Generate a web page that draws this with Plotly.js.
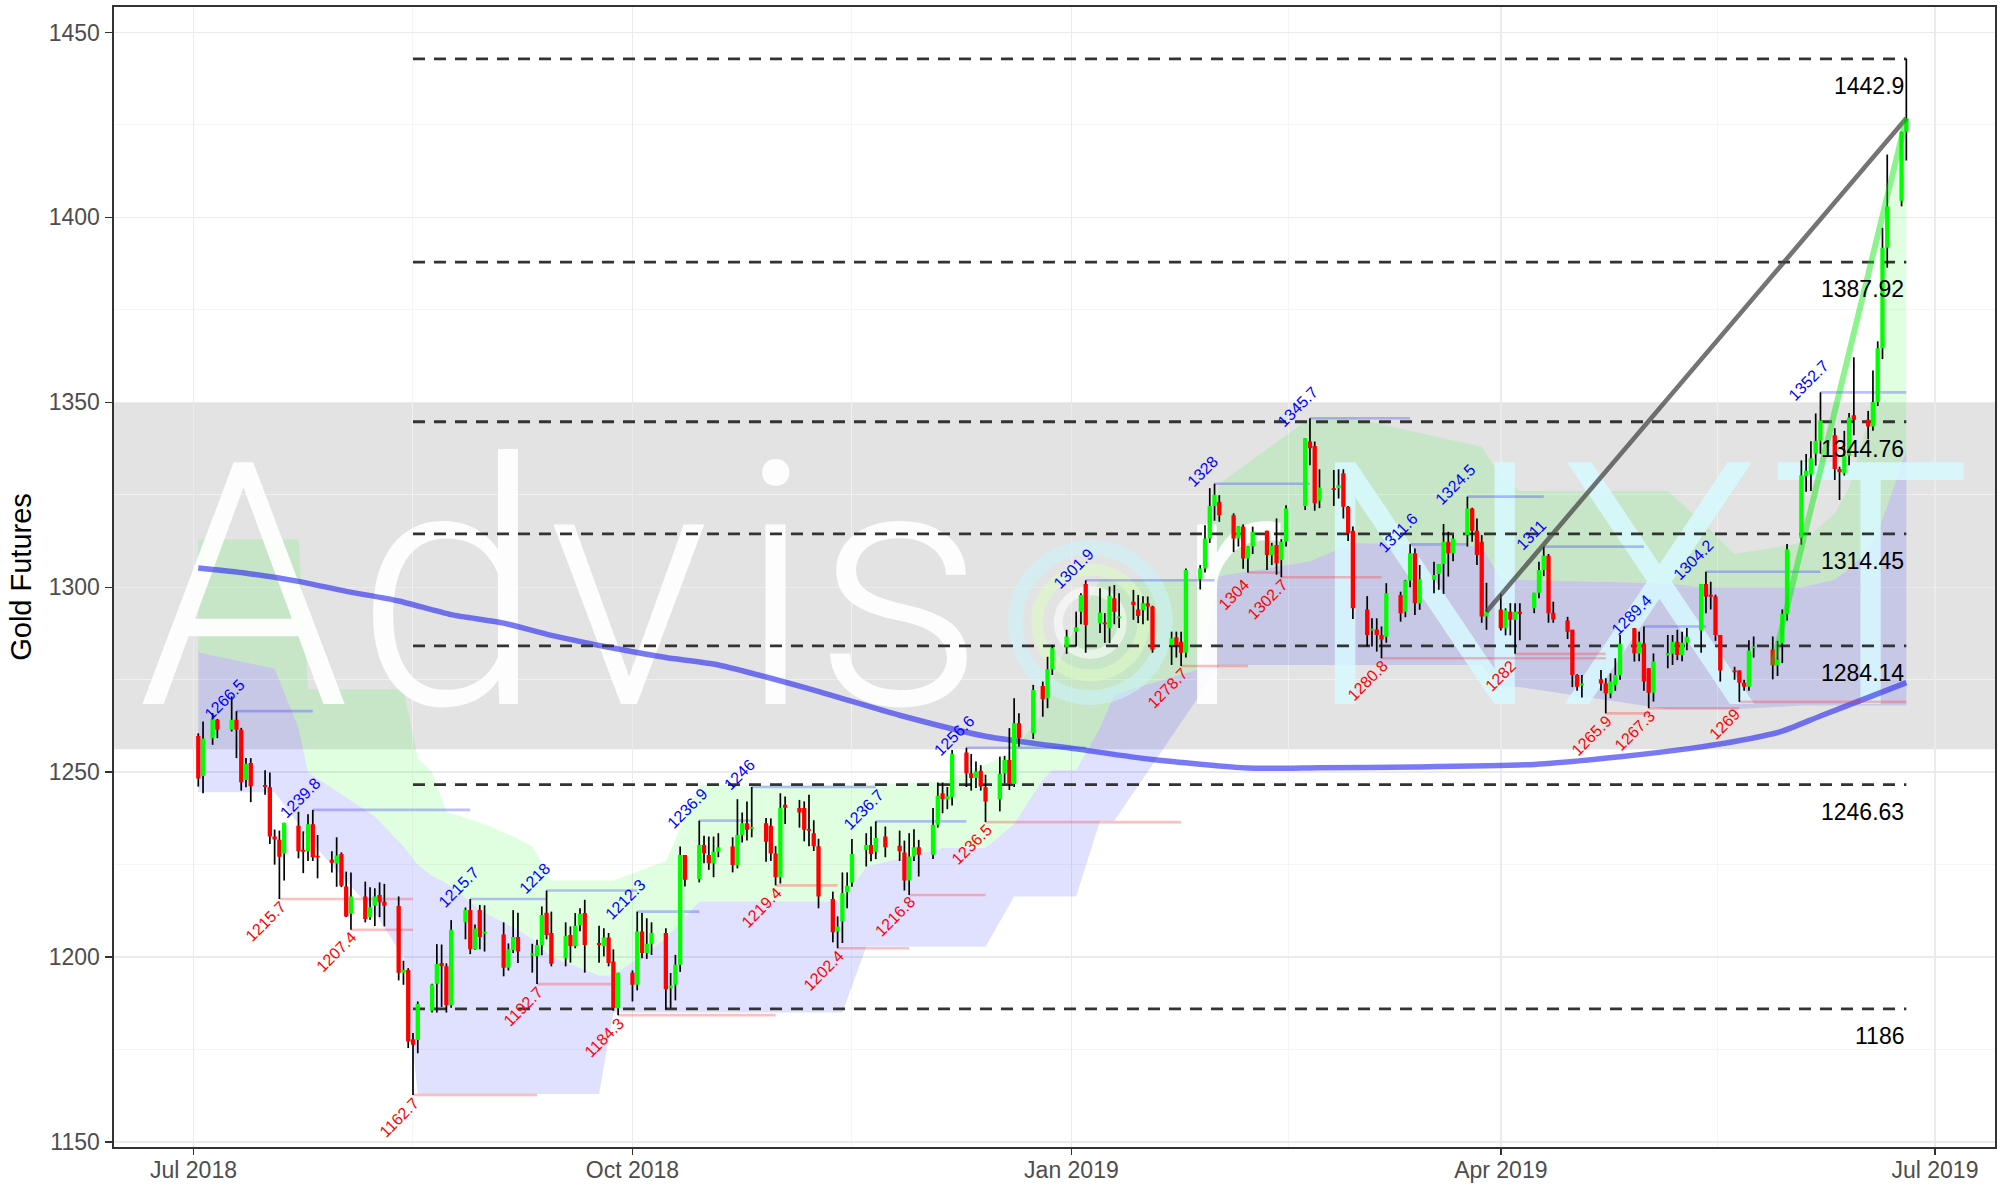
<!DOCTYPE html>
<html>
<head>
<meta charset="utf-8">
<script src="https://cdn.plot.ly/plotly-3.0.1.min.js"></script>
<style>html,body{margin:0;padding:0;background:#fff}#chart{width:2007px;height:1187px}</style>
</head>
<body>
<div id="chart"></div>
<script>
// ---------------- daily candles ----------------
const dates = ['2018-07-02','2018-07-03','2018-07-05','2018-07-06','2018-07-09','2018-07-10','2018-07-11','2018-07-12','2018-07-13',
'2018-07-16','2018-07-17','2018-07-18','2018-07-19','2018-07-20','2018-07-23','2018-07-24','2018-07-25','2018-07-26','2018-07-27',
'2018-07-30','2018-07-31','2018-08-01','2018-08-02','2018-08-03','2018-08-06','2018-08-07','2018-08-08','2018-08-09','2018-08-10',
'2018-08-13','2018-08-14','2018-08-15','2018-08-16','2018-08-17','2018-08-20','2018-08-21','2018-08-22','2018-08-23','2018-08-24',
'2018-08-27','2018-08-28','2018-08-29','2018-08-30','2018-08-31','2018-09-04','2018-09-05','2018-09-06','2018-09-07',
'2018-09-10','2018-09-11','2018-09-12','2018-09-13','2018-09-14','2018-09-17','2018-09-18','2018-09-19','2018-09-20','2018-09-21',
'2018-09-24','2018-09-25','2018-09-26','2018-09-27','2018-09-28','2018-10-01','2018-10-02','2018-10-03','2018-10-04','2018-10-05',
'2018-10-08','2018-10-09','2018-10-10','2018-10-11','2018-10-12','2018-10-15','2018-10-16','2018-10-17','2018-10-18','2018-10-19',
'2018-10-22','2018-10-23','2018-10-24','2018-10-25','2018-10-26','2018-10-29','2018-10-30','2018-10-31','2018-11-01','2018-11-02',
'2018-11-05','2018-11-06','2018-11-07','2018-11-08','2018-11-09','2018-11-12','2018-11-13','2018-11-14','2018-11-15','2018-11-16',
'2018-11-19','2018-11-20','2018-11-21','2018-11-23','2018-11-26','2018-11-27','2018-11-28','2018-11-29','2018-11-30',
'2018-12-03','2018-12-04','2018-12-05','2018-12-06','2018-12-07','2018-12-10','2018-12-11','2018-12-12','2018-12-13','2018-12-14',
'2018-12-17','2018-12-18','2018-12-19','2018-12-20','2018-12-21','2018-12-24','2018-12-26','2018-12-27','2018-12-28',
'2018-12-31','2019-01-02','2019-01-03','2019-01-04','2019-01-07','2019-01-08','2019-01-09','2019-01-10','2019-01-11',
'2019-01-14','2019-01-15','2019-01-16','2019-01-17','2019-01-18','2019-01-22','2019-01-23','2019-01-24','2019-01-25',
'2019-01-28','2019-01-29','2019-01-30','2019-01-31','2019-02-01','2019-02-04','2019-02-05','2019-02-06','2019-02-07','2019-02-08',
'2019-02-11','2019-02-12','2019-02-13','2019-02-14','2019-02-15','2019-02-19','2019-02-20','2019-02-21','2019-02-22',
'2019-02-25','2019-02-26','2019-02-27','2019-02-28','2019-03-01','2019-03-04','2019-03-05','2019-03-06','2019-03-07','2019-03-08',
'2019-03-11','2019-03-12','2019-03-13','2019-03-14','2019-03-15','2019-03-18','2019-03-19','2019-03-20','2019-03-21','2019-03-22',
'2019-03-25','2019-03-26','2019-03-27','2019-03-28','2019-03-29','2019-04-01','2019-04-02','2019-04-03','2019-04-04','2019-04-05',
'2019-04-08','2019-04-09','2019-04-10','2019-04-11','2019-04-12','2019-04-15','2019-04-16','2019-04-17','2019-04-18',
'2019-04-22','2019-04-23','2019-04-24','2019-04-25','2019-04-26','2019-04-29','2019-04-30','2019-05-01','2019-05-02','2019-05-03',
'2019-05-06','2019-05-07','2019-05-08','2019-05-09','2019-05-10','2019-05-13','2019-05-14','2019-05-15','2019-05-16','2019-05-17',
'2019-05-20','2019-05-21','2019-05-22','2019-05-23','2019-05-24','2019-05-28','2019-05-29','2019-05-30','2019-05-31',
'2019-06-03','2019-06-04','2019-06-05','2019-06-06','2019-06-07','2019-06-10','2019-06-11','2019-06-12','2019-06-13','2019-06-14',
'2019-06-17','2019-06-18','2019-06-19','2019-06-20','2019-06-21','2019-06-24','2019-06-25'];

const opens = [1259.8,1249.0,1259.2,1264.2,1261.5,1264.2,1261.5,1247.9,1252.5,
1246.5,1245.9,1232.6,1231.7,1228.0,1235.5,1229.0,1228.6,1235.9,1227.3,
1226.3,1225.3,1227.9,1219.1,1211.7,1216.4,1210.8,1213.9,1216.8,1215.0,
1213.8,1195.8,1196.5,1177.8,1177.6,1185.5,1192.8,1198.4,1197.5,1187.0,
1209.4,1212.7,1202.1,1212.7,1206.4,1206.1,1197.1,1201.9,1205.4,
1200.6,1200.2,1203.3,1212.0,1206.5,1199.7,1206.0,1202.9,1208.7,1211.9,
1203.8,1202.9,1205.3,1198.8,1186.2,1195.8,1192.5,1206.9,1201.1,1203.6,
1206.5,1191.6,1192.5,1197.9,1227.6,1221.1,1230.3,1227.6,1225.4,1228.5,
1229.9,1224.9,1233.0,1236.2,1234.8,1236.2,1235.5,1228.0,1221.6,1241.2,
1240.3,1240.3,1234.6,1233.5,1230.0,1215.7,1207.0,1209.6,1217.5,1220.2,
1229.0,1230.3,1228.5,1232.6,1230.1,1228.3,1220.7,1227.2,1229.7,
1227.7,1235.8,1244.3,1242.7,1243.2,1255.3,1249.7,1248.4,1250.4,1245.9,
1242.7,1249.7,1253.3,1246.8,1263.2,1260.5,1273.3,1270.0,1277.8,
1283.8,1288.0,1293.4,1300.9,1290.3,1290.5,1288.9,1297.0,1291.6,
1296.1,1294.0,1293.8,1295.7,1294.8,1284.4,1286.5,1285.3,1282.3,
1302.2,1305.1,1313.2,1322.0,1323.1,1319.5,1313.2,1316.4,1307.8,1311.0,
1315.3,1308.7,1311.4,1307.4,1312.3,1322.0,1339.4,1338.2,1323.4,
1326.8,1326.8,1330.8,1321.8,1315.3,1294.0,1288.5,1288.6,1287.1,1286.6,
1297.9,1293.4,1301.8,1309.2,1295.7,1302.0,1303.6,1306.3,1312.3,1309.2,
1314.1,1321.3,1315.3,1312.3,1292.1,1294.0,1288.9,1293.4,1291.2,1293.4,
1294.3,1298.5,1304.7,1308.5,1293.1,1291.0,1288.5,1276.3,1273.5,
1275.1,1274.0,1271.3,1273.6,1276.3,1288.9,1282.1,1284.8,1278.1,1271.5,
1281.8,1282.0,1285.3,1281.7,1285.0,1288.3,1300.9,1297.9,1297.5,1287.1,
1277.5,1277.5,1274.2,1273.1,1283.5,1283.2,1278.9,1284.9,1292.8,
1313.3,1330.0,1330.5,1336.1,1339.6,1341.1,1332.0,1330.8,1335.6,1346.5,
1345.3,1343.5,1350.1,1364.6,1391.8,1404.5,1423.2];

const highs = [1260.5,1263.7,1266.0,1264.4,1270.5,1266.5,1262.0,1253.8,1253.8,
1250.5,1249.9,1234.5,1234.2,1236.3,1239.3,1234.0,1238.6,1239.8,1233.0,
1228.6,1232.4,1228.3,1223.1,1222.9,1220.4,1218.9,1218.6,1220.2,1219.8,
1216.4,1199.0,1197.0,1179.5,1188.0,1192.8,1203.5,1203.4,1198.3,1210.0,
1213.4,1215.7,1208.8,1214.1,1214.0,1209.4,1203.7,1212.7,1212.0,
1203.6,1204.7,1213.7,1218.0,1212.3,1209.4,1208.3,1211.9,1213.2,1215.5,
1208.5,1207.8,1206.5,1202.1,1195.8,1196.4,1212.3,1211.9,1210.5,1209.4,
1207.8,1195.7,1200.6,1229.9,1227.6,1236.9,1232.8,1232.6,1232.6,1233.5,
1232.4,1242.7,1239.1,1242.1,1246.0,1237.6,1237.5,1230.0,1244.3,1243.4,
1242.5,1242.1,1243.9,1237.0,1232.0,1217.7,1211.0,1222.9,1222.9,1231.9,
1233.5,1235.3,1236.7,1235.3,1234.2,1231.5,1233.5,1234.6,1231.7,
1240.3,1247.2,1247.2,1246.0,1256.0,1256.6,1254.9,1252.9,1251.9,1249.3,
1254.2,1254.4,1261.9,1270.0,1265.9,1273.6,1274.5,1281.2,1284.4,
1288.5,1293.4,1298.4,1301.9,1299.7,1293.0,1300.2,1300.6,1298.4,
1299.3,1297.9,1297.6,1297.5,1295.0,1288.0,1288.0,1288.0,1305.1,
1306.0,1316.8,1326.8,1328.0,1324.9,1320.0,1316.5,1317.0,1311.1,1316.4,
1315.3,1312.0,1318.6,1313.0,1322.2,1340.3,1345.7,1339.4,1331.9,
1331.7,1331.9,1331.9,1322.0,1316.4,1297.6,1291.6,1291.6,1289.4,1301.1,
1298.8,1302.0,1311.6,1310.5,1306.0,1306.9,1306.3,1317.1,1315.0,1314.1,
1324.5,1321.5,1318.6,1314.1,1301.2,1298.2,1294.3,1295.7,1295.7,1295.7,
1298.5,1306.9,1311.0,1309.0,1296.1,1292.0,1288.5,1276.5,1276.3,
1277.6,1275.4,1276.7,1280.8,1287.1,1289.0,1288.0,1289.4,1278.1,1282.1,
1287.1,1287.1,1288.5,1288.0,1289.0,1300.9,1304.2,1301.5,1298.0,1287.1,
1278.5,1277.5,1275.0,1285.7,1286.7,1286.7,1285.5,1294.0,1311.7,
1334.3,1336.0,1339.5,1347.0,1352.7,1343.0,1332.6,1342.3,1347.1,1362.2,
1347.7,1358.6,1366.5,1397.2,1417.0,1423.2,1442.9];

const lows = [1246.1,1244.3,1257.4,1259.2,1261.0,1253.8,1245.0,1245.9,1241.9,
1243.9,1230.6,1225.0,1215.7,1220.7,1226.7,1222.7,1226.0,1226.0,1221.3,
1222.9,1219.0,1218.9,1210.8,1207.4,1209.4,1210.1,1208.4,1210.8,1208.3,
1193.7,1192.5,1175.4,1162.7,1174.0,1185.0,1185.0,1186.5,1185.0,1186.3,
1204.8,1200.8,1202.0,1202.1,1201.5,1194.8,1196.4,1201.1,1198.4,
1195.8,1192.7,1200.5,1204.8,1197.5,1197.5,1198.5,1202.4,1207.0,1195.8,
1198.5,1200.2,1197.5,1185.5,1184.3,1188.0,1191.0,1199.7,1199.5,1200.6,
1185.9,1186.2,1188.3,1196.0,1219.1,1220.2,1225.4,1223.6,1221.6,1227.0,
1222.9,1224.0,1231.0,1231.5,1232.4,1225.8,1226.0,1219.4,1219.9,1236.0,
1235.0,1231.3,1230.0,1228.7,1213.2,1204.0,1202.4,1203.8,1213.2,1219.0,
1224.5,1225.9,1226.5,1227.0,1226.0,1218.0,1216.8,1226.0,1221.8,
1226.5,1235.0,1238.9,1240.0,1241.0,1246.0,1245.0,1245.7,1245.0,1236.5,
1239.4,1247.0,1245.2,1246.0,1256.9,1259.0,1265.0,1267.3,1276.3,
1282.0,1284.0,1290.0,1282.3,1287.6,1285.0,1284.9,1290.0,1289.0,
1291.2,1290.3,1290.0,1291.0,1282.3,1279.0,1281.0,1278.7,1281.0,
1299.4,1304.0,1312.0,1318.0,1317.7,1309.5,1311.0,1305.0,1304.0,1309.0,
1304.7,1306.0,1303.4,1302.7,1311.0,1320.9,1333.0,1320.7,1321.4,
1322.0,1324.0,1318.6,1312.5,1291.4,1284.0,1284.0,1282.6,1280.8,1285.0,
1290.7,1291.9,1300.0,1292.5,1293.9,1298.4,1299.3,1298.2,1302.9,1307.0,
1311.0,1312.3,1306.0,1290.4,1288.5,1288.3,1287.0,1287.0,1282.0,1285.7,
1293.0,1297.0,1303.0,1290.4,1290.4,1286.0,1273.0,1272.0,1270.2,
1272.0,1265.9,1270.0,1272.0,1275.0,1279.9,1280.0,1272.0,1267.3,1269.1,
1278.1,1279.0,1280.3,1280.0,1283.0,1282.3,1293.0,1294.0,1285.5,1274.5,
1275.0,1269.0,1272.0,1272.0,1281.0,1275.1,1276.0,1279.5,1291.0,
1311.5,1325.8,1326.0,1332.9,1336.1,1329.0,1323.6,1330.2,1333.0,1341.1,
1340.0,1342.3,1349.0,1361.7,1386.4,1403.0,1415.4];

const closes = [1248.3,1259.1,1264.3,1261.5,1264.2,1261.5,1247.3,1252.3,1246.2,
1246.0,1232.6,1231.8,1227.1,1236.3,1228.6,1228.5,1235.9,1227.0,1227.0,
1225.5,1227.5,1219.3,1211.0,1216.4,1210.3,1213.5,1216.4,1214.8,1213.9,
1195.8,1196.5,1177.2,1176.3,1187.3,1192.6,1198.1,1197.5,1187.0,1207.4,
1212.7,1202.1,1207.7,1205.4,1206.8,1197.1,1202.1,1205.4,1201.5,
1200.9,1203.3,1211.4,1206.0,1198.2,1205.7,1202.9,1208.5,1211.7,1203.3,
1203.3,1205.3,1198.4,1186.2,1195.8,1192.5,1206.9,1201.1,1203.6,1206.5,
1191.3,1192.3,1197.9,1227.6,1220.9,1230.3,1228.1,1225.4,1228.5,1229.7,
1224.9,1233.0,1236.2,1234.4,1235.1,1231.2,1228.0,1221.6,1240.4,1240.4,
1239.1,1234.4,1234.2,1230.0,1216.4,1206.7,1208.3,1217.3,1219.3,1227.9,
1230.3,1227.9,1232.2,1229.7,1228.6,1220.7,1227.2,1229.7,1227.7,
1235.8,1243.6,1242.7,1243.5,1255.0,1249.7,1248.4,1250.2,1246.1,1242.1,
1249.5,1253.3,1246.8,1263.2,1259.2,1272.2,1269.7,1277.8,1283.5,
1286.7,1289.2,1297.9,1289.8,1293.2,1290.0,1297.7,1293.4,1292.1,
1295.2,1292.2,1295.7,1294.8,1283.1,1286.2,1284.4,1282.3,1304.7,
1305.1,1313.2,1322.0,1325.0,1319.5,1313.2,1316.4,1307.8,1311.0,1315.0,
1308.7,1311.2,1306.5,1312.3,1321.3,1340.3,1337.6,1322.7,1327.0,
1326.3,1327.6,1321.8,1314.6,1294.3,1287.1,1288.6,1287.1,1285.9,1298.4,
1293.0,1301.8,1309.2,1295.7,1302.2,1303.3,1306.3,1312.3,1309.2,1313.2,
1321.3,1315.3,1308.7,1292.1,1293.4,1288.9,1293.8,1291.2,1293.4,1292.8,
1298.5,1304.7,1308.5,1293.0,1291.3,1288.0,1276.3,1273.1,1273.9,
1274.0,1271.3,1274.5,1276.3,1284.7,1282.1,1285.3,1274.5,1271.5,1279.9,
1282.0,1285.3,1281.7,1285.0,1286.6,1300.9,1297.5,1297.5,1287.1,1277.5,
1277.0,1274.2,1273.1,1282.9,1284.0,1278.9,1280.5,1292.8,1310.3,
1330.3,1331.5,1334.9,1339.6,1345.1,1332.0,1331.1,1335.6,1345.9,1345.3,
1343.5,1350.1,1364.6,1391.8,1403.0,1423.2,1426.8];

// ---------------- cloud ribbons ----------------
const cloudDates = ['2018-07-02','2018-07-18','2018-07-23','2018-07-25','2018-08-01','2018-08-08','2018-08-14','2018-08-17','2018-08-20','2018-08-23',
'2018-08-31','2018-09-06','2018-09-10','2018-09-14','2018-09-24','2018-09-27','2018-10-08','2018-10-15','2018-11-14','2018-11-19',
'2018-12-05','2018-12-14','2018-12-20','2018-12-26','2018-12-28','2019-01-02','2019-01-07','2019-01-10','2019-01-28','2019-02-01',
'2019-02-20','2019-03-01','2019-03-28','2019-04-01','2019-04-05','2019-05-06','2019-05-13','2019-05-20','2019-06-03','2019-06-10',
'2019-06-13','2019-06-17','2019-06-19','2019-06-21','2019-06-25'];
const greenTop = [1312.9,1312.9,1312.9,1272.4,1272.4,1272.4,1272.4,1253.8,1249.9,1239.3,
1236.0,1232.6,1230.0,1220.7,1220.7,1220.7,1226.0,1246.6,1246.6,1246.6,
1247.5,1252.0,1256.0,1266.0,1275.0,1290.0,1302.0,1302.0,1302.0,1328.0,
1345.8,1345.8,1338.0,1330.0,1326.0,1326.0,1318.0,1309.0,1312.0,1320.0,
1327.0,1345.0,1363.0,1400.0,1425.0];
const cloudMid = [1282.4,1278.0,1262.0,1250.0,1244.0,1238.0,1230.0,1225.0,1222.0,1220.0,
1212.0,1208.0,1205.0,1200.0,1195.0,1195.0,1205.0,1215.0,1215.0,1224.4,
1229.5,1229.5,1236.0,1248.0,1250.5,1250.5,1262.0,1271.0,1278.0,1303.0,
1307.0,1312.0,1311.0,1302.0,1302.0,1301.0,1300.0,1300.0,1300.0,1302.0,
1305.0,1310.0,1315.0,1322.0,1337.0];
const blueBottom = [1244.6,1244.6,1236.0,1232.0,1222.0,1212.0,1200.0,1163.0,1163.0,1163.0,
1163.0,1163.0,1163.0,1163.0,1163.0,1185.0,1185.0,1185.0,1185.0,1202.8,
1202.8,1202.8,1216.4,1216.4,1216.4,1216.4,1236.9,1236.9,1271.0,1279.0,
1279.0,1279.0,1279.0,1273.0,1273.0,1267.0,1267.0,1267.0,1268.0,1268.0,
1268.0,1268.0,1268.0,1268.0,1268.0];

// ---------------- 200-day moving average ----------------
const maDates = ['2018-07-02','2018-07-12','2018-07-23','2018-08-02','2018-08-13','2018-08-24','2018-09-04','2018-09-14','2018-09-28',
'2018-10-08','2018-10-19','2018-11-08','2018-11-26','2018-12-14','2019-01-02','2019-01-18','2019-02-07','2019-02-22','2019-03-14',
'2019-04-08','2019-04-26','2019-05-10','2019-05-20','2019-05-30','2019-06-07','2019-06-18','2019-06-25'];
const maValues = [1305.2,1303.8,1301.6,1298.9,1296.3,1292.6,1290.3,1287.0,1283.3,
1281.0,1279.0,1272.2,1265.4,1259.7,1256.3,1253.4,1251.1,1251.2,1251.4,
1252.1,1254.2,1256.3,1258.3,1261.1,1265.2,1270.7,1274.2];

// ---------------- levels ----------------
const fibLevels = [1442.9,1387.92,1344.76,1314.45,1284.14,1246.63,1186];
const fibLabels = ['1442.9','1387.92','1344.76','1314.45','1284.14','1246.63','1186'];
const fibStart = '2018-08-16';
const fibEnd = '2019-06-25';

const highDates = ['2018-07-10','2018-07-26','2018-08-28','2018-09-13','2018-10-02','2018-10-15','2018-10-26','2018-11-21','2018-12-10',
'2019-01-04','2019-01-31','2019-02-20','2019-03-13','2019-03-25','2019-04-10','2019-05-01','2019-05-14','2019-06-07'];
const highValues = [1266.5,1239.8,1215.7,1218,1212.3,1236.9,1246,1236.7,1256.6,1301.9,1328,1345.7,1311.6,1324.5,1311,1289.4,1304.2,1352.7];
const highEnds = ['2018-07-26','2018-08-28','2018-09-13','2018-10-02','2018-10-15','2018-10-26','2018-11-21','2018-12-10','2019-01-04',
'2019-01-31','2019-02-20','2019-03-13','2019-03-25','2019-04-10','2019-05-01','2019-05-14','2019-06-07','2019-06-25'];

const lowDates = ['2018-07-19','2018-08-03','2018-08-16','2018-09-11','2018-09-28','2018-10-31','2018-11-13','2018-11-28','2018-12-14',
'2019-01-24','2019-02-07','2019-02-14','2019-03-07','2019-04-04','2019-04-23','2019-05-02','2019-05-21'];
const lowValues = [1215.7,1207.4,1162.7,1192.7,1184.3,1219.4,1202.4,1216.8,1236.5,1278.7,1304,1302.7,1280.8,1282,1265.9,1267.3,1269];
const lowEnds = ['2018-08-16','2018-08-16','2018-09-11','2018-09-28','2018-10-31','2018-11-13','2018-11-28','2018-12-14','2019-01-24',
'2019-02-07','2019-02-14','2019-03-07','2019-04-23','2019-04-23','2019-05-02','2019-05-21','2019-06-25'];

const bandLow = 1256.2, bandHigh = 1350;
const grayTrendDates = ['2019-03-29','2019-06-25'];
const grayTrendValues = [1293.4,1426.8];
const greenTrendDates = ['2019-05-28','2019-06-25'];
const greenTrendValues = [1278.9,1426.8];

const tickVals = ['2018-07-01','2018-10-01','2019-01-01','2019-04-01','2019-07-01'];
const tickText = ['Jul 2018','Oct 2018','Jan 2019','Apr 2019','Jul 2019'];

// watermark (decoration, one glyph each)
const wmText = ['A','d','v','i','s','r','N','X','T'];
const wmX = ['2018-06-19 05:00','2018-08-03 21:00','2018-09-13 03:00','2018-10-22 23:00','2018-11-07 22:00',
             '2019-01-21 22:00','2019-02-18 19:00','2019-04-12 10:00','2019-05-27 05:00'];
const wmColor = ['rgba(255,255,255,0.93)','rgba(255,255,255,0.93)','rgba(255,255,255,0.93)','rgba(255,255,255,0.93)','rgba(255,255,255,0.93)',
                 'rgba(255,255,255,0.93)','rgba(215,249,255,0.85)','rgba(215,249,255,0.85)','rgba(215,249,255,0.85)'];
const wmY = 1291.4;
const logoX = '2019-01-04 23:00', logoY = 1290.5;

// ---------------- build traces ----------------
const DAY = 86400000;
const FONT = 'Liberation Sans, Arial, Helvetica, sans-serif';
const ms = d => Date.parse(d + 'T00:00:00Z');
const hw = 0.45 * DAY;

const wx = [], wy = [], upX = [], upY = [], dnX = [], dnY = [];
dates.forEach((d, i) => {
  const t = ms(d);
  wx.push(t, t, null); wy.push(lows[i], highs[i], null);
  let lo = Math.min(opens[i], closes[i]), hi = Math.max(opens[i], closes[i]);
  if (hi - lo < 0.5) { const m = (hi + lo) / 2; lo = m - 0.25; hi = m + 0.25; }
  const X = closes[i] >= opens[i] ? upX : dnX, Y = closes[i] >= opens[i] ? upY : dnY;
  X.push(t - hw, t + hw, t + hw, t - hw, t - hw, null);
  Y.push(lo, lo, hi, hi, lo, null);
});

function segTrace(starts, ends, vals, color, width, dash) {
  const x = [], y = [];
  starts.forEach((s, i) => { x.push(s, ends[i], null); y.push(vals[i], vals[i], null); });
  return {x, y, type:'scatter', mode:'lines', line:{color, width, dash: dash || 'solid'}, hoverinfo:'skip', showlegend:false};
}

const traces = [
  {x: cloudDates, y: blueBottom, type:'scatter', mode:'lines', line:{width:0}, hoverinfo:'skip', showlegend:false},
  {x: cloudDates, y: cloudMid, type:'scatter', mode:'lines', fill:'tonexty', fillcolor:'rgba(0,0,255,0.12)', line:{width:0}, hoverinfo:'skip', showlegend:false},
  {x: cloudDates, y: cloudMid, type:'scatter', mode:'lines', line:{width:0}, hoverinfo:'skip', showlegend:false},
  {x: cloudDates, y: greenTop, type:'scatter', mode:'lines', fill:'tonexty', fillcolor:'rgba(0,255,0,0.12)', line:{width:0}, hoverinfo:'skip', showlegend:false},
  // watermark logo rings
  {x:[logoX, logoX, logoX], y:[logoY, logoY, logoY], type:'scatter', mode:'markers', hoverinfo:'skip', showlegend:false,
   marker:{symbol:'circle', size:[150,106,64], color:'rgba(0,0,0,0)',
           line:{color:['rgba(205,243,250,0.85)','rgba(222,250,200,0.85)','rgba(255,255,255,0.8)'], width:[15,12,9]}}},
  // watermark text
  {x: wmX, y: wmX.map(() => wmY), text: wmText, type:'scatter', mode:'text', textposition:'middle right', hoverinfo:'skip', showlegend:false,
   textfont:{family: 'Roboto, ' + FONT, weight: 300, size: 340, color: wmColor}},
  // 200 day MA
  {x: maDates, y: maValues, type:'scatter', mode:'lines', line:{color:'rgba(40,40,240,0.62)', width:5.5, shape:'spline', smoothing:0.6}, hoverinfo:'skip', showlegend:false},
  // fib levels
  segTrace(fibLevels.map(() => fibStart), fibLevels.map(() => fibEnd), fibLevels, '#333333', 2.8, '12px,9px'),
  // swing high / low lines
  segTrace(highDates, highEnds, highValues, 'rgba(60,60,255,0.33)', 2.6),
  segTrace(lowDates, lowEnds, lowValues, 'rgba(255,60,60,0.33)', 2.6),
  // wicks
  {x: wx, y: wy, type:'scatter', mode:'lines', line:{color:'#000000', width:1.7}, hoverinfo:'skip', showlegend:false, connectgaps:false},
  // bodies
  {x: upX, y: upY, type:'scatter', mode:'lines', fill:'toself', fillcolor:'#00FF00', line:{width:0, color:'rgba(0,0,0,0)'}, hoverinfo:'skip', showlegend:false},
  {x: dnX, y: dnY, type:'scatter', mode:'lines', fill:'toself', fillcolor:'#FF0000', line:{width:0, color:'rgba(0,0,0,0)'}, hoverinfo:'skip', showlegend:false},
  // trend lines
  {x: grayTrendDates, y: grayTrendValues, type:'scatter', mode:'lines', line:{color:'rgba(70,70,70,0.75)', width:4.6}, hoverinfo:'skip', showlegend:false},
  {x: greenTrendDates, y: greenTrendValues, type:'scatter', mode:'lines', line:{color:'rgba(0,230,0,0.45)', width:6}, hoverinfo:'skip', showlegend:false}
];

const annotations = [];
fibLevels.forEach((v, i) => annotations.push({x: fibEnd, y: v, xref:'x', yref:'y', text: fibLabels[i], showarrow:false,
  xanchor:'right', yanchor:'middle', yshift:-27, font:{family: FONT, size:23, color:'#000000'}}));
highDates.forEach((d, i) => annotations.push({x: d, y: highValues[i], xref:'x', yref:'y', text: String(highValues[i]), showarrow:false,
  textangle:-45, xanchor:'center', yanchor:'middle', xshift:-12, yshift:12, font:{family: FONT, size:16, color:'#0000FF'}}));
lowDates.forEach((d, i) => annotations.push({x: d, y: lowValues[i], xref:'x', yref:'y', text: String(lowValues[i]), showarrow:false,
  textangle:-45, xanchor:'center', yanchor:'middle', xshift:-14, yshift:-22, font:{family: FONT, size:16, color:'#FF0000'}}));

const layout = {
  width: 2007, height: 1187,
  margin: {l:114, r:12, t:7, b:40, pad:0},
  paper_bgcolor:'#ffffff', plot_bgcolor:'#ffffff',
  showlegend:false, hovermode:false,
  font:{family: FONT},
  xaxis: {type:'date', range:['2018-06-14 08:00','2019-07-13 14:00'], tickmode:'array', tickvals: tickVals, ticktext: tickText,
    tickfont:{size:23, color:'#4d4d4d', family: FONT}, ticks:'outside', ticklen:6, tickwidth:1.4, tickcolor:'#333333',
    showgrid:true, gridcolor:'#ebebeb', gridwidth:1.4, zeroline:false,
    showline:true, linecolor:'#333333', linewidth:1.6, mirror:true, automargin:false, ticklabelstandoff:-4,
    minor:{tickmode:'array', tickvals:['2018-08-16','2018-11-16','2019-02-15 12:00','2019-05-16 12:00'], showgrid:true, gridcolor:'#f2f2f2', gridwidth:0.8, ticks:''}},
  yaxis: {range:[1148.65,1456.9], tickmode:'array', tickvals:[1150,1200,1250,1300,1350,1400,1450],
    tickfont:{size:23, color:'#4d4d4d', family: FONT}, ticks:'outside', ticklen:7, tickwidth:1.4, tickcolor:'#333333',
    showgrid:true, gridcolor:'#ebebeb', gridwidth:1.4, zeroline:false,
    showline:true, linecolor:'#333333', linewidth:1.6, mirror:true, automargin:false, ticklabelstandoff:1,
    title:{text:'Gold Futures', font:{size:29, color:'#000000', family: FONT}, standoff:8},
    minor:{tickmode:'array', tickvals:[1175,1225,1275,1325,1375,1425], showgrid:true, gridcolor:'#f2f2f2', gridwidth:0.8, ticks:''}},
  shapes: [{type:'rect', xref:'paper', x0:0, x1:1, yref:'y', y0: bandLow, y1: bandHigh, fillcolor:'rgba(0,0,0,0.11)', line:{width:0}, layer:'between'}],
  annotations
};

Plotly.newPlot('chart', traces, layout, {staticPlot:true, displayModeBar:false});
</script>
</body>
</html>
